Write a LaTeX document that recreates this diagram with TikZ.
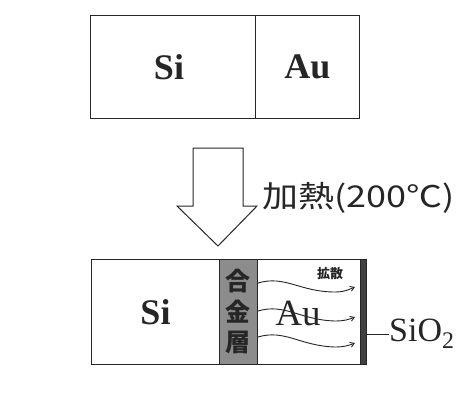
\documentclass[tikz,border=0pt]{standalone}
\usepackage{fontspec}
\usepackage{graphicx}
\setmainfont{Liberation Serif}
\newfontfamily\cjk{Noto Sans CJK JP}
\usetikzlibrary{arrows.meta}
\tikzset{
  cell/.style={draw=black!85, line width=1pt, rectangle, inner sep=0pt, anchor=north west},
  big/.style={font=\fontsize{36}{36}\selectfont\bfseries, text=black!85},
  kanji/.style={font=\cjk\bfseries\fontsize{25}{25}\selectfont, text=black!85},
  wave/.style={draw=black!85, line width=0.9pt, -{Straight Barb[length=4pt,width=5pt]}},
}
\begin{document}
\begin{tikzpicture}[x=1pt,y=-1pt]
\useasboundingbox (0,0) rectangle (462,405);
\fill[white] (0,0) rectangle (462,405);
% top boxes
\node[cell, minimum width=165pt, minimum height=103pt] (tsi) at (90,15) {};
\node[cell, minimum width=104pt, minimum height=103pt] (tau) at (255,15) {};
\node[big] at ([xshift=-4pt]tsi.center) {Si};
\node[big] at (tau.center) {Au};
% hollow arrow
\draw[black!85, line width=1pt, fill=white]
  (193,148) -- (243,148) -- (243,206) -- (257,206) -- (218,246) -- (177,206) -- (193,206) -- cycle;
\node[anchor=west, inner sep=0pt, text=black!85] (heat) at (262,198)
  {\scalebox{1.2}[1]{\cjk\fontsize{30}{30}\selectfont 加熱(200℃)}};
% bottom boxes
\node[cell, minimum width=128pt, minimum height=105pt] (bsi) at (91,259) {};
\node[cell, minimum width=38pt, minimum height=105pt, fill=black!45] (alloy) at (219,259) {};
\node[cell, minimum width=103pt, minimum height=105pt] (bau) at (257,259) {};
\node[cell, minimum width=6pt, minimum height=105pt, fill=black!75] (bar) at (360,259) {};
\node[big] at (bsi.center) {Si};
\node[font=\fontsize{37}{37}\selectfont, text=black!85] (au2) at (298,313) {Au};
\node[kanji] (k1) at (238,281) {合};
\node[kanji] (k2) at (238,312) {金};
\node[kanji] (k3) at (238,342) {層};
\node[font=\cjk\bfseries\fontsize{13}{13}\selectfont, text=black!85] (diff) at (330,274) {拡散};
% wavy diffusion arrows
\coordinate (w1s) at (258,283); \coordinate (w1e) at (355,287);
\coordinate (w2s) at (258,311); \coordinate (w2e) at (355,317);
\coordinate (w3s) at (258,337); \coordinate (w3e) at (355,343);
\draw[wave] (w1s) .. controls (285,275) and (300,292) .. (335,292) .. controls (345,292) and (350,289) .. (w1e);
\draw[wave] (w2s) .. controls (285,303) and (300,320) .. (335,321) .. controls (345,321) and (350,319) .. (w2e);
\draw[wave] (w3s) .. controls (285,329) and (300,346) .. (335,347) .. controls (345,347) and (350,345) .. (w3e);
% SiO2 label
\node[anchor=west, inner sep=0pt, font=\fontsize{34}{34}\selectfont, text=black!85] (sio2) at (389,334) {SiO\textsubscript{2}};
\coordinate (barpt) at (366,334);
\draw[black!85, line width=1pt] (barpt) -- (sio2.west);
\end{tikzpicture}
\end{document}
